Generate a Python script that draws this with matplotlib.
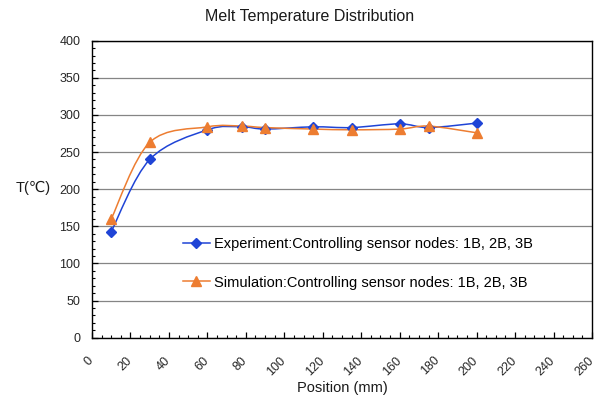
import matplotlib.pyplot as plt
import matplotlib.transforms as mtransforms
from matplotlib.path import Path
from matplotlib.patches import PathPatch
from matplotlib.ticker import MultipleLocator
import numpy as np

# dados
posicao = [10, 30, 60, 78, 90, 115, 135, 160, 175, 200]
t_experimento = [143, 240, 280, 284, 281, 284, 283, 288, 283, 289]
t_simulacao = [160, 263, 284, 285, 283, 281, 280, 281, 285, 276]

rotulo_exp = 'Experiment:Controlling sensor nodes: 1B, 2B, 3B'
rotulo_sim = 'Simulation:Controlling sensor nodes: 1B, 2B, 3B'

cor_azul = '#1f44d6'
cor_laranja = '#ED7D31'

plt.rcParams['font.family'] = ['Liberation Sans', 'DejaVu Sans']


def curva_suave(ax, xs, ys, cor):
    # linha suavizada estilo Excel (Catmull-Rom -> Bezier em coordenadas de tela)
    pts = ax.transData.transform(np.column_stack([xs, ys]))
    n = len(pts)
    verts = [pts[0]]
    codes = [Path.MOVETO]
    for i in range(n - 1):
        p0 = pts[max(i - 1, 0)]
        p1 = pts[i]
        p2 = pts[i + 1]
        p3 = pts[min(i + 2, n - 1)]
        c1 = p1 + (p2 - p0) / 6
        c2 = p2 - (p3 - p1) / 6
        verts += [c1, c2, p2]
        codes += [Path.CURVE4] * 3
    verts = ax.transData.inverted().transform(np.array(verts))
    patch = PathPatch(Path(verts, codes), facecolor='none', edgecolor=cor,
                      lw=1.1, transform=ax.transData, zorder=3)
    ax.add_patch(patch)


fig = plt.figure(figsize=(6.08, 4.0), dpi=100)
ax = fig.add_axes([92 / 608, 1 - 337.7 / 400, 500 / 608, 297 / 400])

ax.set_xlim(0, 260)
ax.set_ylim(0, 400)
ax.xaxis.set_major_locator(MultipleLocator(20))
ax.xaxis.set_minor_locator(MultipleLocator(5))
ax.yaxis.set_major_locator(MultipleLocator(50))
ax.yaxis.set_minor_locator(MultipleLocator(10))
ax.grid(axis='y', which='major', color='#858585', lw=0.9)
ax.set_axisbelow(True)

for s in ax.spines.values():
    s.set_color('#000000')
    s.set_linewidth(1.0)

ax.tick_params(which='both', direction='in', color='black', labelcolor='#262626',
               labelsize=9, right=False, top=False)
ax.tick_params(which='major', length=4, width=0.9)
ax.tick_params(which='minor', length=2.5, width=0.8)
ax.tick_params(axis='x', which='major', pad=12)
ax.tick_params(axis='y', which='major', pad=8.5)
plt.setp(ax.get_xticklabels(), rotation=45, ha='right')

# desloca um pouco os rotulos do eixo x para a direita
desloc = mtransforms.ScaledTranslation(4 / 100, 0, fig.dpi_scale_trans)
for rot in ax.xaxis.get_majorticklabels():
    rot.set_transform(rot.get_transform() + desloc)

fig.canvas.draw()
curva_suave(ax, posicao, t_experimento, cor_azul)
curva_suave(ax, posicao, t_simulacao, cor_laranja)

ax.plot(posicao, t_experimento, ls='none', marker='D', ms=5, color=cor_azul, zorder=4)
ax.plot(posicao, t_simulacao, ls='none', marker='^', ms=6.5, color=cor_laranja, zorder=4)

# entradas da legenda
h1, = ax.plot([], [], color=cor_azul, lw=1.1, marker='D', ms=5)
h2, = ax.plot([], [], color=cor_laranja, lw=1.1, marker='^', ms=6.5)
fig.legend([h1, h2], [rotulo_exp, rotulo_sim], loc='center left',
           bbox_to_anchor=(183 / 608, 1 - 263.5 / 400), frameon=False,
           fontsize=10.5, labelspacing=1.65, handlelength=1.85,
           handletextpad=0.25, borderpad=0, borderaxespad=0)

fig.text(310 / 608, 1 - 17 / 400, 'Melt Temperature Distribution',
         ha='center', va='center', fontsize=11.5, color='#1a1a1a')
fig.text(33 / 608, 1 - 188 / 400, 'T(℃)', ha='center', va='center',
         fontsize=10.5, color='#1a1a1a')
fig.text(342 / 608, 1 - 388 / 400, 'Position (mm)', ha='center', va='center',
         fontsize=10.5, color='#1a1a1a')

plt.savefig('out.png', dpi=100)
